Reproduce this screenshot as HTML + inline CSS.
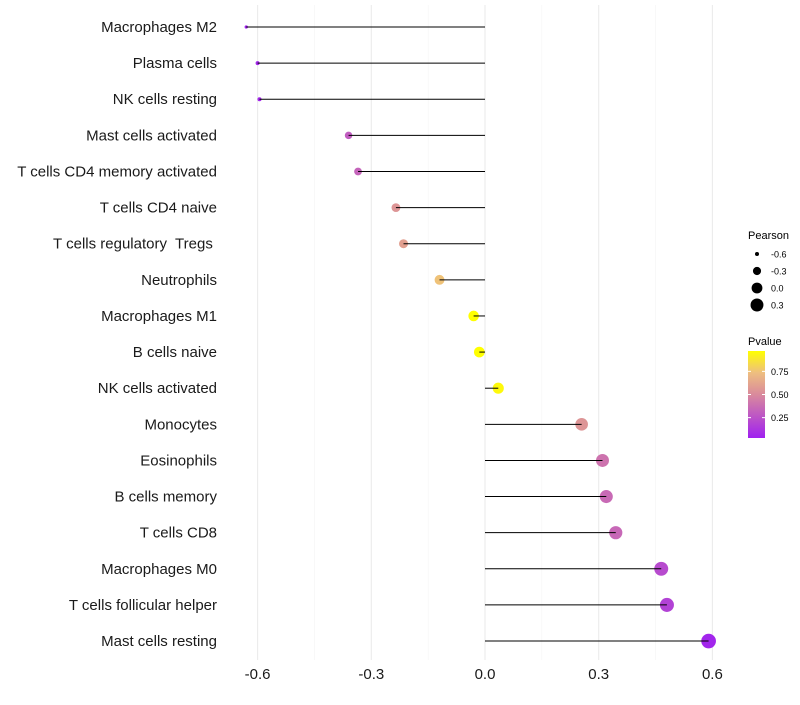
<!DOCTYPE html>
<html><head><meta charset="utf-8"><style>
body{margin:0;background:#fff;font-family:"Liberation Sans",sans-serif}
text{white-space:pre}
</style></head><body>
<svg id="chart" width="800" height="700"></svg>
<script>
const categories=["Macrophages M2","Plasma cells","NK cells resting","Mast cells activated","T cells CD4 memory activated","T cells CD4 naive","T cells regulatory  Tregs ","Neutrophils","Macrophages M1","B cells naive","NK cells activated","Monocytes","Eosinophils","B cells memory","T cells CD8","Macrophages M0","T cells follicular helper","Mast cells resting"];
const pearson=[-0.63,-0.60,-0.595,-0.36,-0.335,-0.235,-0.215,-0.12,-0.03,-0.015,0.035,0.255,0.31,0.32,0.345,0.465,0.48,0.59];
const pvalue=[0.03,0.06,0.06,0.30,0.33,0.55,0.60,0.75,0.97,0.97,0.95,0.55,0.40,0.36,0.35,0.22,0.18,0.05];
const xTicks=[-0.6,-0.3,0.0,0.3,0.6];
const xTickLabels=["-0.6","-0.3","0.0","0.3","0.6"];
const sizeBreaks=[-0.6,-0.3,0.0,0.3];
const colorTicks=[0.25,0.5,0.75];
const NS="http://www.w3.org/2000/svg";
const svg=document.getElementById('chart');
function xs(v){return 485+v*379;}
function ys(i){return 27+i*36.12;}
function rs(v){return Math.sqrt(Math.max(1,4+(v+0.6)*42));}
const stops=[[0,[160,32,240]],[0.5,[217,138,156]],[0.75,[238,190,128]],[1,[255,255,0]]];
function col(p){let t=(p-0.03)/(0.97-0.03);t=Math.max(0,Math.min(1,t));
for(let k=1;k<stops.length;k++){if(t<=stops[k][0]){const a=stops[k-1],b=stops[k];const f=(t-a[0])/(b[0]-a[0]);
return 'rgb('+a[1].map((c,j)=>Math.round(c+(b[1][j]-c)*f)).join(',')+')';}}return 'rgb(255,255,0)';}
function el(t,a){const e=document.createElementNS(NS,t);for(const k in a)e.setAttribute(k,a[k]);svg.appendChild(e);return e;}
for(let v=-0.6;v<=0.61;v+=0.15){const major=Math.abs(Math.round(v/0.3)*0.3-v)<1e-6;
const g=el('line',{x1:xs(v),x2:xs(v),y1:5,y2:660,stroke:major?'#ebebeb':'#f4f4f4','stroke-width':major?1.1:0.6});

}
categories.forEach((c,i)=>{
const t=el('text',{x:217,y:ys(i)+5,'text-anchor':'end','font-size':15,fill:'#1a1a1a'});t.textContent=c;


const p=el('circle',{cx:xs(pearson[i]),cy:ys(i),r:rs(pearson[i]),fill:col(pvalue[i])});


});
categories.forEach((c,i)=>{
const l=el('line',{x1:xs(0),x2:xs(pearson[i]),y1:ys(i),y2:ys(i),stroke:'#000','stroke-width':1});


});
xTicks.forEach((v,i)=>{const t=el('text',{x:xs(v),y:679,'text-anchor':'middle','font-size':15,fill:'#1a1a1a'});t.textContent=xTickLabels[i];

});
let t=el('text',{x:748,y:239,'font-size':11,fill:'#000'});t.textContent='Pearson';


sizeBreaks.forEach((v,i)=>{const y=254+i*17;
const c=el('circle',{cx:757,cy:y,r:rs(v),fill:'#000'});


const tx=el('text',{x:771,y:y+3.5,'font-size':9,fill:'#000'});tx.textContent=v.toFixed(1);

});
t=el('text',{x:748,y:345,'font-size':11,fill:'#000'});t.textContent='Pvalue';


const defs=el('defs',{});const lg=document.createElementNS(NS,'linearGradient');lg.setAttribute('id','cg');lg.setAttribute('x1','0');lg.setAttribute('y1','1');lg.setAttribute('x2','0');lg.setAttribute('y2','0');
stops.forEach(s=>{const st=document.createElementNS(NS,'stop');st.setAttribute('offset',s[0]);st.setAttribute('stop-color','rgb('+s[1].join(',')+')');lg.appendChild(st);});defs.appendChild(lg);
const bar=el('rect',{x:748,y:351,width:17,height:87,fill:'url(#cg)'});


function cy(p){return 438-(p-0.03)/(0.94)*87;}
colorTicks.forEach(p=>{const y=cy(p);
el('line',{x1:748,x2:751,y1:y,y2:y,stroke:'#fff','stroke-width':1});el('line',{x1:762,x2:765,y1:y,y2:y,stroke:'#fff','stroke-width':1});
const tx=el('text',{x:771,y:y+3.5,'font-size':9,fill:'#000'});tx.textContent=p.toFixed(2);

});
</script>
</body></html>
